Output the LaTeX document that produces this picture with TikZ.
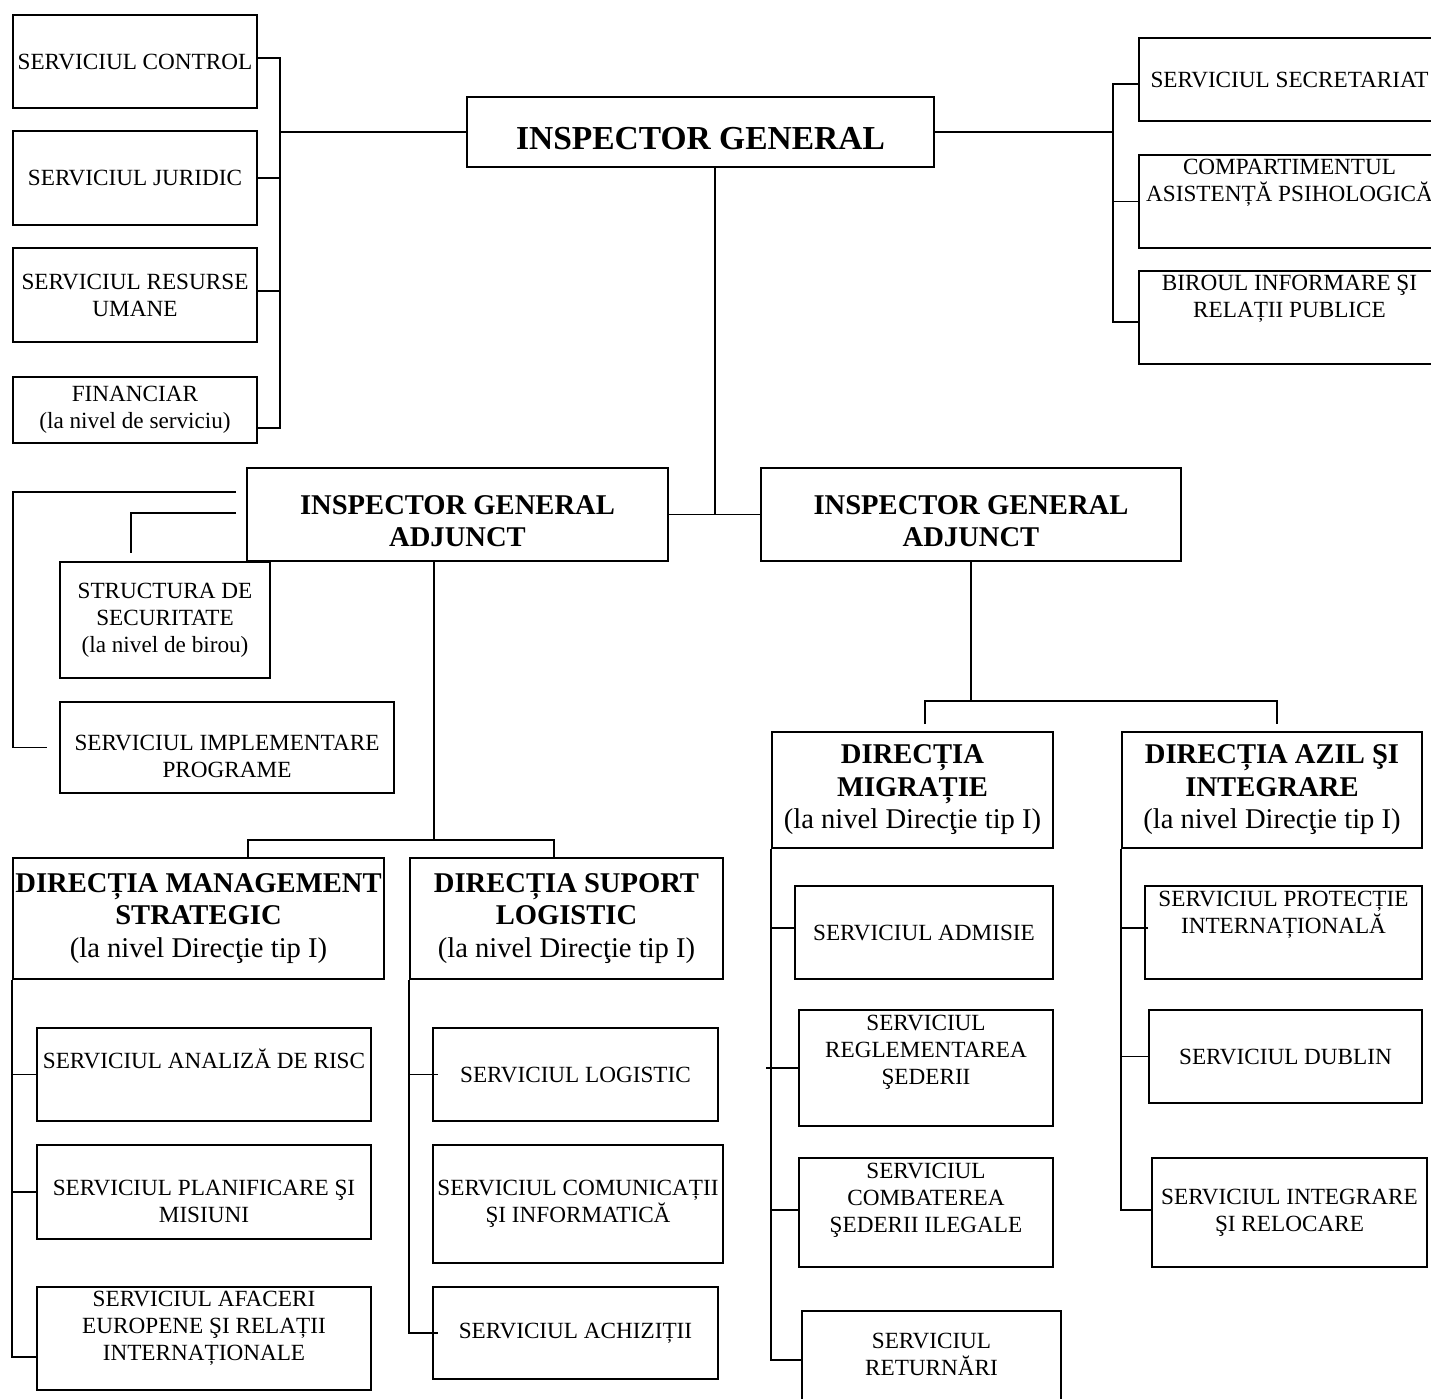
\documentclass[tikz,border=0pt]{standalone}
\usepackage{fontspec}
\setmainfont{Liberation Serif}
\newcommand\svcfont{\fontsize{23.2}{27}\selectfont}
\newcommand\dirfont{\fontsize{28.6}{32.5}\selectfont}
\newcommand\topfont{\fontsize{33.5}{38}\selectfont\bfseries}
\tikzset{
  box/.style={draw, line width=1.9pt, inner sep=0pt, align=center, font=\svcfont},
  dirbox/.style={box, font=\dirfont},
  lbl/.style={inner sep=0pt, align=center, font=\svcfont},
  dirlbl/.style={lbl, font=\dirfont\bfseries},
  link/.style={line width=1.9pt},
}
\begin{document}
\begin{tikzpicture}[x=1pt, y=-1pt]
  \useasboundingbox (0,0) rectangle (1431,1398);
  \clip (0,0) rectangle (1431,1398);
  % top
  \node[box, font=\topfont, text height=34pt, text depth=0pt, minimum width=467, minimum height=70] (ig) at (700.5,132) {INSPECTOR GENERAL};
  % left services
  \node[box, minimum width=244, minimum height=93] (ctrl) at (135,61.5) {SERVICIUL CONTROL};
  \node[box, minimum width=244, minimum height=94] (jur) at (135,178) {SERVICIUL JURIDIC};
  \node[box, minimum width=244, minimum height=94] (res) at (135,295) {SERVICIUL RESURSE\\UMANE};
  \node[box, minimum width=244, minimum height=66] (fin) at (135,410) {FINANCIAR\\(la nivel de serviciu)};
  % right services
  \node[box, minimum width=301, minimum height=83] (secr) at (1289.5,79.5) {SERVICIUL SECRETARIAT};
  \node[box, minimum width=301, minimum height=93] (comp) at (1289.5,201.5) {};
  \node[lbl] (comp-t) at (1289.5,182.5) {COMPARTIMENTUL\\ASISTENȚĂ PSIHOLOGICĂ};
  \node[box, minimum width=301, minimum height=93] (bir) at (1289.5,317.5) {};
  \node[lbl] (bir-t) at (1289.5,298.5) {BIROUL INFORMARE ŞI\\RELAȚII PUBLICE};
  % adjuncts
  \node[box, minimum width=421, minimum height=93] (iga1) at (457.5,514.5) {};
  \node[dirlbl] (iga1-t) at (457.5,521) {INSPECTOR GENERAL\\ADJUNCT};
  \node[box, minimum width=420, minimum height=93] (iga2) at (971,514.5) {};
  \node[dirlbl] (iga2-t) at (971,521) {INSPECTOR GENERAL\\ADJUNCT};
  \node[box, minimum width=210, minimum height=116] (struct) at (165,620) {STRUCTURA DE\\SECURITATE\\(la nivel de birou)};
  \node[box, minimum width=334, minimum height=91] (impl) at (227,747.5) {};
  \node[lbl] (impl-t) at (227,756.5) {SERVICIUL IMPLEMENTARE\\PROGRAME};
  % directions
  \node[dirbox, minimum width=371, minimum height=121] (mgmt) at (198.5,918.5) {\textbf{DIRECȚIA MANAGEMENT}\\\textbf{STRATEGIC}\\(la nivel Direcţie tip I)};
  \node[dirbox, minimum width=313, minimum height=121] (sup) at (566.5,918.5) {\textbf{DIRECȚIA SUPORT}\\\textbf{LOGISTIC}\\(la nivel Direcţie tip I)};
  \node[dirbox, minimum width=281, minimum height=116] (mig) at (912.5,790) {\textbf{DIRECȚIA}\\\textbf{MIGRAȚIE}\\(la nivel Direcţie tip I)};
  \node[dirbox, minimum width=300, minimum height=116] (azil) at (1272,790) {\textbf{DIRECȚIA AZIL ŞI}\\\textbf{INTEGRARE}\\(la nivel Direcţie tip I)};
  % management strategic
  \node[box, minimum width=334, minimum height=93] (ana) at (204,1074.5) {};
  \node[lbl] (ana-t) at (204,1059) {SERVICIUL ANALIZĂ DE RISC};
  \node[box, minimum width=334, minimum height=94] (plan) at (204,1192) {};
  \node[lbl] (plan-t) at (204,1201) {SERVICIUL PLANIFICARE ŞI\\MISIUNI};
  \node[box, minimum width=334, minimum height=103] (afac) at (204,1338.5) {};
  \node[lbl] (afac-t) at (204,1328) {SERVICIUL AFACERI\\EUROPENE ŞI RELAȚII\\INTERNAȚIONALE};
  % suport logistic
  \node[box, minimum width=285, minimum height=93] (logi) at (575.5,1074.5) {SERVICIUL LOGISTIC};
  \node[box, minimum width=290, minimum height=118] (comu) at (578,1204) {SERVICIUL COMUNICAȚII\\ŞI INFORMATICĂ};
  \node[box, minimum width=285, minimum height=92] (ach) at (575.5,1333) {SERVICIUL ACHIZIȚII};
  % migratie
  \node[box, minimum width=258, minimum height=93] (adm) at (924,932.5) {SERVICIUL ADMISIE};
  \node[box, minimum width=254, minimum height=116] (regl) at (926,1068) {};
  \node[lbl] (regl-t) at (926,1052) {SERVICIUL\\REGLEMENTAREA\\ŞEDERII};
  \node[box, minimum width=254, minimum height=109] (comb) at (926,1212.5) {};
  \node[lbl] (comb-t) at (926,1200) {SERVICIUL\\COMBATEREA\\ŞEDERII ILEGALE};
  \node[box, minimum width=259, minimum height=100] (ret) at (931.5,1361) {};
  \node[lbl] (ret-t) at (931.5,1354) {SERVICIUL\\RETURNĂRI};
  % azil si integrare
  \node[box, minimum width=277, minimum height=93] (prot) at (1283.5,932.5) {};
  \node[lbl] (prot-t) at (1283.5,914.5) {SERVICIUL PROTECȚIE\\INTERNAȚIONALĂ};
  \node[box, minimum width=273, minimum height=93] (dub) at (1285.5,1056.5) {SERVICIUL DUBLIN};
  \node[box, minimum width=275, minimum height=109] (integ) at (1289.5,1212.5) {SERVICIUL INTEGRARE\\ŞI RELOCARE};

  % links of the inspector general
  \coordinate (lbus) at (280,131);
  \draw[link] (ig.west) -- (ig.west -| lbus);
  \draw[link] ([yshift=3.5]ctrl.east) -| (lbus);
  \draw[link] (jur.east) -| (lbus);
  \draw[link] ([yshift=4]res.east) -| (lbus);
  \draw[link] ([yshift=-18]fin.east) -| (lbus);
  \coordinate (rbus) at (1113,131);
  \draw[link] (ig.east) -- (ig.east -| rbus);
  \draw[link] ([yshift=-4.5]secr.west) -| (rbus);
  \draw[link] (comp.west) -| (rbus);
  \draw[link] ([yshift=-4.5]bir.west) -| (rbus);
  \coordinate (igjoin) at (715,514.5);
  \draw[link] (ig.south -| igjoin) -- (igjoin);
  \draw[link] (iga1.east) -- (iga2.west);

  % links of the first adjunct
  \draw[link] ([xshift=-10,yshift=22.5]iga1.west) -| ([xshift=-46]impl.west) -- ([xshift=-12]impl.west);
  \draw[link] ([xshift=-10,yshift=1.5]iga1.west) -| ([xshift=-34,yshift=8]struct.north);
  \coordinate (ljoin) at (434,840);
  \draw[link] (iga1.south -| ljoin) -- (ljoin);
  \draw[link] ([xshift=49.5]mgmt.north) |- (ljoin) -| ([xshift=-12.5]sup.north);
  \draw[link] (mgmt.south west) |- ([yshift=-18.5]afac.west);
  \draw[link] (ana.west) -| (mgmt.south west);
  \draw[link] (plan.west) -| (mgmt.south west);
  \draw[link] (sup.south west) |- ([xshift=6]ach.west);
  \draw[link] ([xshift=6]logi.west) -| (sup.south west);

  % links of the second adjunct
  \coordinate (rjoin) at (971,701);
  \draw[link] (iga2.south) -- (rjoin);
  \draw[link] ([xshift=12.5,yshift=7]mig.north) |- (rjoin) -| ([xshift=5,yshift=7]azil.north);
  \draw[link] (mig.south west) |- ([yshift=1]ret.west);
  \draw[link] ([yshift=4.5]adm.west) -| (mig.south west);
  \draw[link] ([xshift=-32]regl.west) -- (regl.west);
  \draw[link] ([yshift=2.5]comb.west) -| (mig.south west);
  \draw[link] (azil.south west) |- ([yshift=2.5]integ.west);
  \draw[link] ([xshift=4,yshift=4.5]prot.west) -| (azil.south west);
  \draw[link] (dub.west) -| (azil.south west);
\end{tikzpicture}
\end{document}
